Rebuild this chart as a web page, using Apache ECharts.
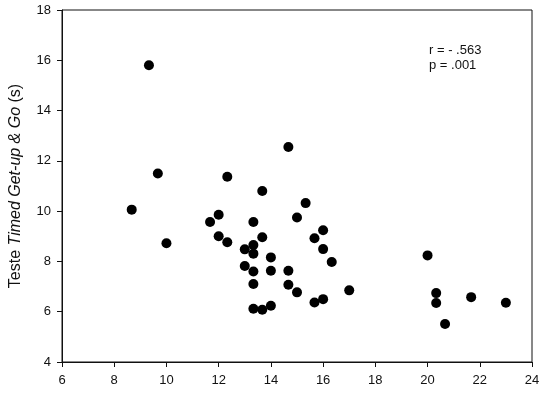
<!DOCTYPE html>
<html>
<head>
<meta charset="utf-8">
<script src="https://cdn.jsdelivr.net/npm/echarts@6/dist/echarts.min.js"></script>
<style>html,body{margin:0;padding:0;background:#fff}#c{width:547px;height:396px}</style>
</head>
<body>
<div id="c"></div>
<script>
const xValues = [9.33, 9.67, 12.33, 13.67, 8.67, 10.0, 11.67, 12.0, 12.0, 12.33, 13.0, 13.0, 13.33, 13.33, 13.33, 13.33, 13.33, 13.33, 13.67, 13.67, 14.0, 14.0, 14.0, 15.33, 15.0, 16.0, 15.67, 16.0, 16.33, 14.67, 14.67, 15.0, 15.67, 16.0, 17.0, 20.0, 20.33, 20.33, 20.67, 21.67, 23.0, 14.67];
const yValues = [15.8, 11.5, 11.37, 10.8, 10.06, 8.72, 9.57, 9.86, 9.0, 8.76, 8.48, 7.82, 9.57, 8.65, 8.31, 7.6, 7.1, 6.12, 8.96, 6.08, 8.16, 7.63, 6.24, 10.32, 9.75, 9.24, 8.92, 8.49, 7.98, 7.63, 7.07, 6.77, 6.37, 6.5, 6.85, 8.24, 6.74, 6.35, 5.51, 6.58, 6.36, 12.55];
const xTicks = [6, 8, 10, 12, 14, 16, 18, 20, 22, 24];
const yTicks = [4, 6, 8, 10, 12, 14, 16, 18];
const annotation = ['r = - .563', 'p = .001'];

const data = xValues.map((x, i) => [x, yValues[i]]);
const chart = echarts.init(document.getElementById('c'), null, {renderer: 'canvas'});
const font = 'Liberation Sans, Arial, sans-serif';
chart.setOption({
  animation: false,
  grid: {left: 61, right: 15, top: 10, bottom: 34, show: true, borderColor: '#111', borderWidth: 1, backgroundColor: 'transparent'},
  xAxis: {
    type: 'value', min: xTicks[0], max: xTicks[xTicks.length - 1], interval: 2,
    axisLine: {show: true, lineStyle: {color: '#111', width: 1}},
    axisTick: {show: true, inside: false, length: 5, lineStyle: {color: '#111'}},
    splitLine: {show: false},
    axisLabel: {color: '#111', fontSize: 13, fontFamily: font, margin: 12}
  },
  yAxis: {
    type: 'value', min: yTicks[0], max: yTicks[yTicks.length - 1], interval: 2,
    axisLine: {show: true, lineStyle: {color: '#111', width: 1}},
    axisTick: {show: true, inside: false, length: 5, lineStyle: {color: '#111'}},
    splitLine: {show: false},
    axisLabel: {color: '#111', fontSize: 13, fontFamily: font, margin: 11},
    name: '{n|Teste }{i|Timed Get-up & Go}{n| (s)}',
    nameLocation: 'middle', nameGap: 38, nameRotate: 90,
    nameTextStyle: {
      rich: {
        n: {fontSize: 16, fontFamily: font, color: '#111'},
        i: {fontSize: 16, fontFamily: font, fontStyle: 'italic', color: '#111'}
      }
    }
  },
  graphic: [{
    type: 'text', left: 429, top: 43,
    style: {text: annotation.join('\n'), font: '13px ' + font, fill: '#111', lineHeight: 15}
  }],
  series: [{
    type: 'scatter', data: data, symbol: 'circle', symbolSize: 10,
    itemStyle: {color: '#000', opacity: 1}
  }]
});
</script>
</body>
</html>
